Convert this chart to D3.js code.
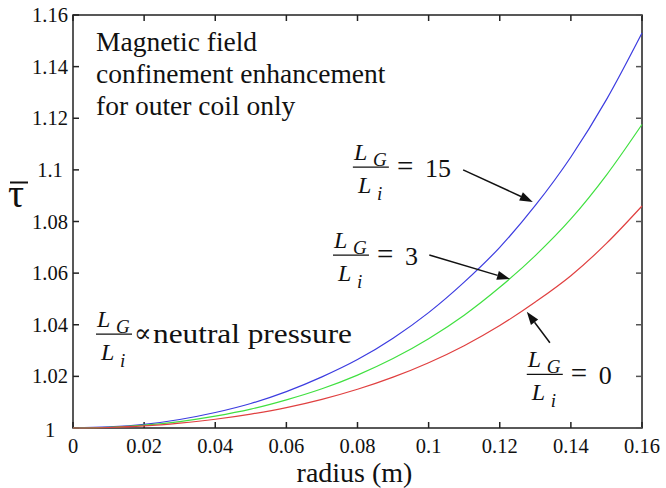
<!DOCTYPE html>
<html><head><meta charset="utf-8">
<script src="https://cdn.jsdelivr.net/npm/d3@7"></script>
<style>body{margin:0;background:#fff}svg{display:block}</style>
</head><body>
<svg id="c" width="666" height="488" font-family="'Liberation Serif', 'DejaVu Serif', serif"></svg>
<script>
const radius = [0,0.01,0.02,0.03,0.04,0.05,0.06,0.07,0.08,0.09,0.10,0.11,0.12,0.13,0.14,0.15,0.16];
const tau15 = [1,1.0004,1.0014,1.0033,1.0060,1.0095,1.0141,1.0198,1.0265,1.0348,1.0447,1.0565,1.0700,1.0862,1.1050,1.1272,1.153];
const tau3  = [1,1.0003,1.0011,1.0025,1.0046,1.0073,1.0109,1.0152,1.0205,1.0269,1.0346,1.0437,1.0545,1.0668,1.0810,1.0980,1.1176];
const tau0  = [1,1.0002,1.0008,1.0019,1.0034,1.0054,1.0079,1.0111,1.0150,1.0197,1.0253,1.0319,1.0397,1.0488,1.0590,1.0715,1.086];
const xTicks = [0,0.02,0.04,0.06,0.08,0.1,0.12,0.14,0.16];
const xTickLabels = ["0","0.02","0.04","0.06","0.08","0.1","0.12","0.14","0.16"];
const yTicks = [1,1.02,1.04,1.06,1.08,1.1,1.12,1.14,1.16];
const yTickLabels = ["1","1.02","1.04","1.06","1.08","1.1","1.12","1.14","1.16"];
const seriesNames = ["15","3","0"];
const seriesColors = ["#3c3ce0","#40e040","#e04040"];
const titleLines = ["Magnetic field","confinement enhancement","for outer coil only"];

const svg = d3.select("#c");
const L=73, R=642, T=15, B=428;
const x = d3.scaleLinear().domain([0,0.16]).range([L,R]);
const y = d3.scaleLinear().domain([1,1.16]).range([B,T]);

// frame
svg.append("rect").attr("x",L).attr("y",T).attr("width",R-L).attr("height",B-T)
  .attr("fill","none").attr("stroke","#222").attr("stroke-width",1.5);
svg.append("line").attr("x1",R).attr("x2",R).attr("y1",T).attr("y2",B).attr("stroke","#555").attr("stroke-width",2);

const tl=6;
const g = svg.append("g");
xTicks.forEach((t,i)=>{
  g.append("line").attr("x1",x(t)).attr("x2",x(t)).attr("y1",B).attr("y2",B-tl).attr("stroke","#222").attr("stroke-width",1.5);
  g.append("line").attr("x1",x(t)).attr("x2",x(t)).attr("y1",T).attr("y2",T+tl).attr("stroke","#222").attr("stroke-width",1.5);
  g.append("text").attr("x",x(t)).attr("y",453).attr("text-anchor","middle").attr("font-size",20.5).attr("fill","#111").text(xTickLabels[i]);
});
yTicks.forEach((t,i)=>{
  g.append("line").attr("x1",L).attr("x2",L+tl).attr("y1",y(t)).attr("y2",y(t)).attr("stroke","#222").attr("stroke-width",1.5);
  g.append("line").attr("x1",R).attr("x2",R-tl).attr("y1",y(t)).attr("y2",y(t)).attr("stroke","#555").attr("stroke-width",1.5);
  const yy = i===0 ? y(t)+9 : y(t)+7;
  g.append("text").attr("x",50).attr("y",yy).attr("text-anchor","middle").attr("font-size",20.5).attr("fill","#111").text(yTickLabels[i]);
});

// axis titles
svg.append("text").attr("x",354.5).attr("y",482).attr("text-anchor","middle").attr("font-size",28).attr("fill","#111").text("radius (m)");
svg.append("text").attr("x",8).attr("y",207).attr("font-size",40).attr("fill","#111").text("τ");
svg.append("line").attr("x1",10).attr("x2",28).attr("y1",182.5).attr("y2",182.5).attr("stroke","#111").attr("stroke-width",2);

// curves
const line = d3.line().x((d,i)=>x(radius[i])).y(d=>y(d)).curve(d3.curveMonotoneX);
[tau15,tau3,tau0].forEach((s,k)=>{
  svg.append("path").attr("d",line(s)).attr("fill","none").attr("stroke",seriesColors[k]).attr("stroke-width",1.2);
});

// title block
titleLines.forEach((t,i)=>{
  svg.append("text").attr("x",96).attr("y",51+i*32).attr("font-size",27.5).attr("fill","#111").text(t);
});

// fraction label
function frac(px,py,tail,isText){
  const gg = svg.append("g").attr("fill","#111");
  gg.append("line").attr("x1",px).attr("x2",px+36).attr("y1",py).attr("y2",py).attr("stroke","#111").attr("stroke-width",1.3);
  gg.append("text").attr("x",px+1).attr("y",py-7).attr("font-size",24).attr("font-style","italic").text("L");
  gg.append("text").attr("x",px+20).attr("y",py-1).attr("font-size",19).attr("font-style","italic").text("G");
  gg.append("text").attr("x",px+5).attr("y",py+26).attr("font-size",24).attr("font-style","italic").text("L");
  gg.append("text").attr("x",px+24).attr("y",py+33).attr("font-size",19).attr("font-style","italic").text("i");
  if(isText){
    gg.append("text").attr("x",px+38).attr("y",py+8).attr("font-size",26).text("∝");
    gg.append("text").attr("x",px+57).attr("y",py+9).attr("font-size",28).attr("textLength",199).attr("lengthAdjust","spacingAndGlyphs").text(tail);
  } else {
    gg.append("text").attr("x",px+44).attr("y",py+9).attr("font-size",29).text("=");
    gg.append("text").attr("x",px+72).attr("y",py+10).attr("font-size",26).text(tail);
  }
}
frac(x(0.0787),y(1.1011),seriesNames[0]);
frac(x(0.0731),y(1.0670),seriesNames[1]);
frac(x(0.1276),y(1.0208),seriesNames[2]);
frac(x(0.00647),y(1.0364),"neutral pressure",true);

// arrows
function arrow(x1,y1,x2,y2){
  const X1=x(x1),Y1=y(y1),X2=x(x2),Y2=y(y2);
  const a=Math.atan2(Y2-Y1,X2-X1), hl=13, hw=4.5;
  const bx=X2-hl*Math.cos(a), by=Y2-hl*Math.sin(a);
  svg.append("line").attr("x1",X1).attr("y1",Y1).attr("x2",bx).attr("y2",by).attr("stroke","#111").attr("stroke-width",1.5);
  const p=[[X2,Y2],[bx+hw*Math.sin(a),by-hw*Math.cos(a)],[bx-hw*Math.sin(a),by+hw*Math.cos(a)]];
  svg.append("path").attr("d","M"+p.map(q=>q.join(",")).join("L")+"Z").attr("fill","#111");
}
arrow(0.1097,1.1000,0.1293,1.0876);
arrow(0.1002,1.0670,0.1229,1.0577);
arrow(0.1341,1.0330,0.1276,1.0450);
</script>
</body></html>
